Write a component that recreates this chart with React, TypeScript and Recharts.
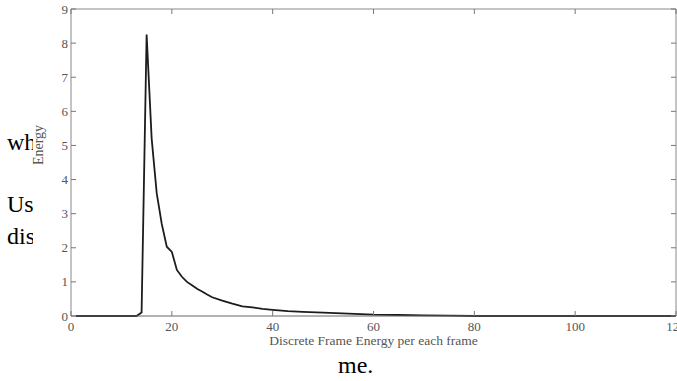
import React from 'react';
import { LineChart, Line, XAxis, YAxis } from 'recharts';

const frames = [1, 13, 14, 15, 16, 17, 18, 19, 20, 21, 22, 23, 24, 25, 26, 27, 28, 30, 32, 34, 36, 38, 40, 43, 46, 50, 55, 60, 65, 70, 75, 80, 90, 100, 110, 120];
const energy = [0, 0, 0.1, 8.25, 5.2, 3.6, 2.7, 2.03, 1.88, 1.35, 1.15, 1.0, 0.9, 0.8, 0.72, 0.63, 0.55, 0.45, 0.36, 0.28, 0.25, 0.21, 0.18, 0.14, 0.12, 0.1, 0.07, 0.04, 0.03, 0.02, 0.01, 0, 0, 0, 0, 0];

const xTicks = [0, 20, 40, 60, 80, 100, 120];
const yTicks = [0, 1, 2, 3, 4, 5, 6, 7, 8, 9];

const data = frames.map((f, i) => ({ frame: f, energy: energy[i] }));

const serif = '"Liberation Serif", "DejaVu Serif", serif';
const tickColor = '#777';
const labelColor = '#555';

const BottomTick = (props: any) => {
  const { x, y, payload } = props;
  return (
    <g>
      <line x1={x} y1={y - 6} x2={x} y2={y - 11} stroke={tickColor} />
      <text x={x} y={y} dy="0.71em" textAnchor="middle" fontSize={13} fill={labelColor} fontFamily={serif}>
        {payload.value}
      </text>
    </g>
  );
};

const LeftTick = (props: any) => {
  const { x, y, payload } = props;
  return (
    <g>
      <line x1={x + 3} y1={y} x2={x + 8} y2={y} stroke={tickColor} />
      <text x={x} y={y} dy="0.35em" textAnchor="end" fontSize={13} fill={labelColor} fontFamily={serif}>
        {payload.value}
      </text>
    </g>
  );
};

// top and right frame: inward ticks only, no labels
const TopTick = (props: any) => {
  const { x, y } = props;
  return <line x1={x} y1={y} x2={x} y2={y + 5} stroke={tickColor} />;
};

const RightTick = (props: any) => {
  const { x, y } = props;
  return <line x1={x - 5} y1={y} x2={x} y2={y} stroke={tickColor} />;
};

const pageText: React.CSSProperties = {
  position: 'absolute',
  fontFamily: serif,
  fontSize: 24,
  color: '#000',
  lineHeight: 1,
  whiteSpace: 'nowrap',
};

export default function App() {
  return (
    <div style={{ position: 'absolute', left: 0, top: 0, width: 677, height: 381, overflow: 'hidden', background: '#fff' }}>
      <span style={{ ...pageText, left: 7, top: 130 }}>wh</span>
      <span style={{ ...pageText, left: 7, top: 192 }}>Us</span>
      <span style={{ ...pageText, left: 7, top: 224 }}>dis</span>
      <span style={{ ...pageText, left: 338, top: 353 }}>me.</span>
      <div style={{ position: 'absolute', left: 33, top: 0, width: 653, height: 352, background: '#fff' }}>
        <span
          style={{
            position: 'absolute',
            left: 6,
            top: 145,
            fontFamily: serif,
            fontSize: 14,
            color: labelColor,
            lineHeight: 1,
            transform: 'translate(-50%, -50%) rotate(-90deg)',
            whiteSpace: 'nowrap',
          }}
        >
          Energy
        </span>
        <LineChart width={653} height={352} data={data} margin={{ top: 8, right: 0, bottom: 0, left: 0 }}>
          <XAxis
            xAxisId="b"
            dataKey="frame"
            type="number"
            domain={[0, 120]}
            ticks={xTicks}
            interval={0}
            height={36}
            tickSize={0}
            tickMargin={6}
            tickLine={false}
            tick={BottomTick}
            axisLine={{ stroke: '#666' }}
            label={{ value: 'Discrete Frame Energy per each frame', position: 'insideBottom', offset: 7, fill: labelColor, fontSize: 13.5, fontFamily: serif }}
          />
          <XAxis
            xAxisId="t"
            orientation="top"
            dataKey="frame"
            type="number"
            domain={[0, 120]}
            ticks={xTicks}
            interval={0}
            height={1}
            tickSize={0}
            tickMargin={0}
            tickLine={false}
            tick={TopTick}
            axisLine={{ stroke: '#888' }}
          />
          <YAxis
            yAxisId="l"
            domain={[0, 9]}
            ticks={yTicks}
            interval={0}
            width={38}
            tickSize={0}
            tickMargin={3}
            tickLine={false}
            tick={LeftTick}
            axisLine={{ stroke: '#888' }}
          />
          <YAxis
            yAxisId="r"
            orientation="right"
            domain={[0, 9]}
            ticks={yTicks}
            interval={0}
            width={10}
            tickSize={0}
            tickMargin={0}
            tickLine={false}
            tick={RightTick}
            axisLine={{ stroke: '#888' }}
          />
          <Line
            xAxisId="b"
            yAxisId="l"
            type="linear"
            dataKey="energy"
            stroke="#1c1c1c"
            strokeWidth={1.8}
            dot={false}
            isAnimationActive={false}
          />
          {/* invisible copy so the top/right frame axes get drawn */}
          <Line
            xAxisId="t"
            yAxisId="r"
            type="linear"
            dataKey="energy"
            stroke="none"
            dot={false}
            activeDot={false}
            legendType="none"
            isAnimationActive={false}
          />
        </LineChart>
      </div>
    </div>
  );
}
